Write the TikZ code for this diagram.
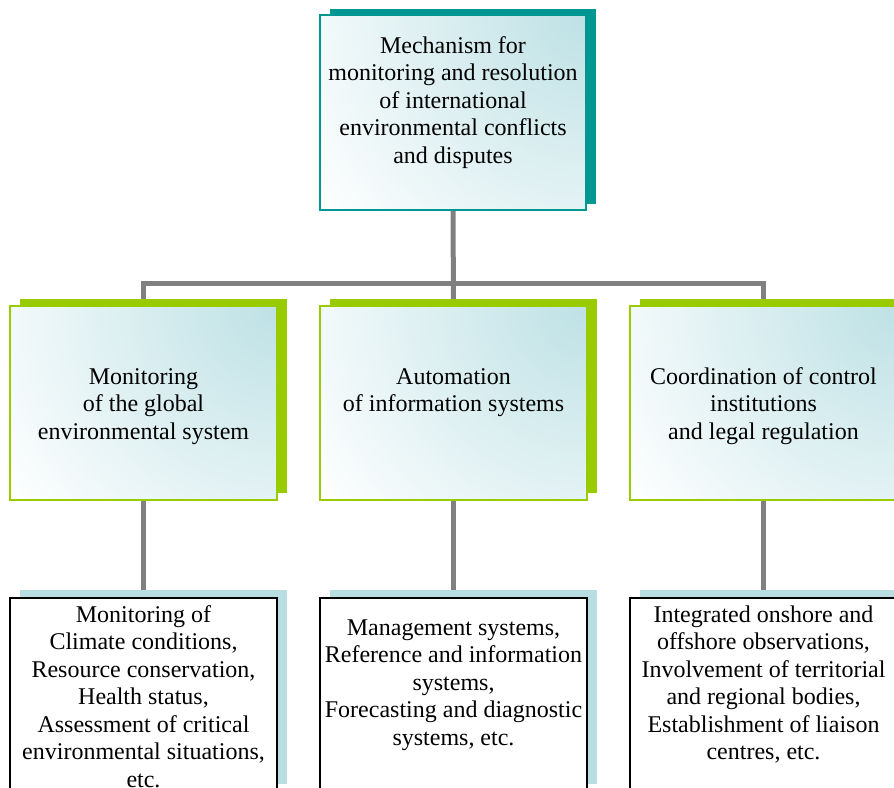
\documentclass[tikz,border=0pt]{standalone}
\usepackage{fontspec}
\setmainfont{Liberation Serif}
\usetikzlibrary{shadows,calc,backgrounds}

\definecolor{mechteal}{RGB}{0,151,147}
\definecolor{leafgreen}{RGB}{153,204,0}
\definecolor{paleblue}{RGB}{190,225,229}
\definecolor{shadowblue}{RGB}{185,222,226}
\definecolor{linkgray}{RGB}{128,128,128}

\tikzset{
	gradbox/.style={path picture={\shade[inner color=paleblue,outer color=white] (path picture bounding box.north east) circle (330pt);}},
	topbox/.style={gradbox,draw=mechteal,line width=2pt,minimum width=266pt,minimum height=195pt,inner sep=0pt,anchor=north west,
		drop shadow={shadow xshift=10pt,shadow yshift=6pt,fill=mechteal,opacity=1}},
	midbox/.style={gradbox,draw=leafgreen,line width=2pt,minimum width=267pt,minimum height=194pt,inner sep=0pt,anchor=north west,
		drop shadow={shadow xshift=9.5pt,shadow yshift=7.5pt,fill=leafgreen,opacity=1}},
	lowbox/.style={fill=white,draw=black,line width=2pt,minimum width=267pt,minimum height=194pt,inner sep=0pt,anchor=north west,
		drop shadow={shadow xshift=9.5pt,shadow yshift=8pt,fill=shadowblue,opacity=1}},
	link/.style={draw=linkgray,line width=5pt},
	txt/.style={align=center,inner sep=0pt,anchor=base,font=\fontsize{24}{27.5}\selectfont}
}

\begin{document}
\begin{tikzpicture}

	\begin{scope}[x=1pt,y=-1pt]
		\useasboundingbox (0,0) rectangle (894,787);
		\clip (0,0) rectangle (894,787);

		\node[topbox] (mech) at (319,14) {};

		\node[midbox] (watch) at (9,305) {};
		\node[midbox] (auto) at (319,305) {};
		\node[midbox] (coord) at (629,305) {};

		\node[lowbox] (watchlist) at (9,597) {};
		\node[lowbox] (autolist) at (319,597) {};
		\node[lowbox] (coordlist) at (629,597) {};

		\coordinate (bus) at (0,283);

		\begin{scope}[on background layer]
			\draw[link] (mech.south) -- (auto.north);
			\draw[link] (watch.north) -- (watch.north |- bus) -- (coord.north |- bus) -- (coord.north);
			\draw[link] (watch.south) -- (watchlist.north);
			\draw[link] (auto.south) -- (autolist.north);
			\draw[link] (coord.south) -- (coordlist.north);
		\end{scope}

		\node[txt] (mechtext) at ($(mech.north)+(0,149)$) {Mechanism for\\monitoring and resolution\\of international\\environmental conflicts\\and disputes};

		\node[txt] (watchtext) at ($(watch.north)+(0,134)$) {Monitoring\\of the global\\environmental system};
		\node[txt] (autotext) at ($(auto.north)+(0,106.5)$) {Automation\\of information systems};
		\node[txt] (coordtext) at ($(coord.north)+(0,134)$) {Coordination of control\\institutions\\and legal regulation};

		\node[txt] (watchlisttext) at ($(watchlist.north)+(0,190)$) {Monitoring of\\Climate conditions,\\Resource conservation,\\Health status,\\Assessment of critical\\environmental situations,\\etc.};
		\node[txt] (autolisttext) at ($(autolist.north)+(0,148)$) {Management systems,\\Reference and information\\systems,\\Forecasting and diagnostic\\systems, etc.};
		\node[txt] (coordlisttext) at ($(coordlist.north)+(0,162.5)$) {Integrated onshore and\\offshore observations,\\Involvement of territorial\\and regional bodies,\\Establishment of liaison\\centres, etc.};
	\end{scope}

\end{tikzpicture}
\end{document}
